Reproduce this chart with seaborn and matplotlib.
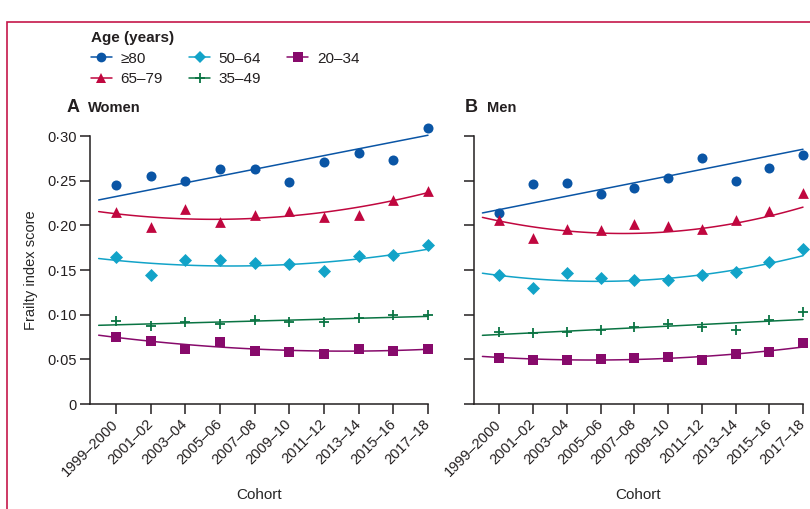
import numpy as np
import pandas as pd
import matplotlib
matplotlib.use("Agg")
import matplotlib.pyplot as plt
from matplotlib.lines import Line2D
from matplotlib.patches import Rectangle
from matplotlib.ticker import FuncFormatter
from matplotlib import font_manager
import seaborn as sns

# ---------------------------------------------------------------- data
cohorts = ["1999–2000", "2001–02", "2003–04", "2005–06", "2007–08",
           "2009–10", "2011–12", "2013–14", "2015–16", "2017–18"]
age_groups = ["≥80", "65–79", "50–64", "35–49", "20–34"]

# observed mean frailty index score per cohort
women_80 = [0.245, 0.255, 0.250, 0.263, 0.263, 0.248, 0.271, 0.281, 0.273, 0.309]
women_65 = [0.215, 0.198, 0.218, 0.204, 0.212, 0.216, 0.209, 0.212, 0.228, 0.238]
women_50 = [0.164, 0.144, 0.161, 0.161, 0.158, 0.157, 0.149, 0.166, 0.167, 0.178]
women_35 = [0.093, 0.087, 0.092, 0.089, 0.094, 0.092, 0.092, 0.096, 0.100, 0.100]
women_20 = [0.075, 0.070, 0.062, 0.069, 0.059, 0.058, 0.056, 0.062, 0.059, 0.062]

men_80 = [0.214, 0.246, 0.247, 0.235, 0.242, 0.253, 0.275, 0.250, 0.264, 0.279]
men_65 = [0.206, 0.186, 0.196, 0.195, 0.202, 0.199, 0.196, 0.206, 0.216, 0.236]
men_50 = [0.144, 0.130, 0.147, 0.141, 0.139, 0.139, 0.144, 0.148, 0.159, 0.174]
men_35 = [0.081, 0.080, 0.081, 0.083, 0.086, 0.089, 0.086, 0.083, 0.094, 0.103]
men_20 = [0.052, 0.049, 0.049, 0.050, 0.052, 0.053, 0.049, 0.056, 0.058, 0.068]

# model-fitted trend per cohort
women_80_fit = [0.232, 0.240, 0.248, 0.255, 0.263, 0.270, 0.278, 0.286, 0.293, 0.301]
women_65_fit = [0.212, 0.210, 0.208, 0.207, 0.208, 0.210, 0.214, 0.220, 0.228, 0.237]
women_50_fit = [0.160, 0.158, 0.156, 0.155, 0.155, 0.156, 0.158, 0.162, 0.167, 0.174]
women_35_fit = [0.0886, 0.0897, 0.0907, 0.0918, 0.0928, 0.0939, 0.0949, 0.0960, 0.0970, 0.0981]
women_20_fit = [0.0745, 0.0703, 0.0668, 0.0638, 0.0615, 0.0600, 0.0592, 0.0593, 0.0600, 0.0612]

men_80_fit = [0.2176, 0.2251, 0.2326, 0.2401, 0.2476, 0.2551, 0.2626, 0.2701, 0.2776, 0.2852]
men_65_fit = [0.203, 0.199, 0.195, 0.193, 0.1915, 0.192, 0.195, 0.201, 0.210, 0.222]
men_50_fit = [0.1428, 0.1405, 0.1391, 0.1383, 0.1383, 0.1398, 0.1435, 0.150, 0.1576, 0.1665]
men_35_fit = [0.0778, 0.0797, 0.0815, 0.0834, 0.0853, 0.0871, 0.0890, 0.0909, 0.0927, 0.0946]
men_20_fit = [0.0516, 0.0505, 0.0498, 0.0497, 0.0502, 0.0512, 0.0528, 0.0550, 0.0591, 0.0647]

observed = {
    "Women": [women_80, women_65, women_50, women_35, women_20],
    "Men": [men_80, men_65, men_50, men_35, men_20],
}
fitted = {
    "Women": [women_80_fit, women_65_fit, women_50_fit, women_35_fit, women_20_fit],
    "Men": [men_80_fit, men_65_fit, men_50_fit, men_35_fit, men_20_fit],
}

# ---------------------------------------------------------------- style
palette = {"≥80": "#0a55a5", "65–79": "#c0073f", "50–64": "#12a3c8",
           "35–49": "#0a7443", "20–34": "#870a6b"}
markers = {"≥80": "o", "65–79": "^", "50–64": "D", "35–49": "+", "20–34": "s"}
msizes = {"≥80": 52, "65–79": 60, "50–64": 44, "35–49": 55, "20–34": 60}
frame_red = "#c5164a"

sns.set_style("ticks")
available = {f.name for f in font_manager.fontManager.ttflist}
base_font = "Liberation Sans Narrow" if "Liberation Sans Narrow" in available else "Liberation Sans"
plt.rcParams["font.family"] = [base_font, "DejaVu Sans"]
plt.rcParams["axes.edgecolor"] = "#231f20"
plt.rcParams["xtick.color"] = "#231f20"
plt.rcParams["ytick.color"] = "#231f20"
plt.rcParams["text.color"] = "#231f20"

rows = []
for sex, groups in observed.items():
    for age, vals in zip(age_groups, groups):
        for i, v in enumerate(vals):
            rows.append({"sex": sex, "age": age, "pos": i, "score": v})
obs_df = pd.DataFrame(rows)

grid = np.linspace(-0.5, 9, 120)
rows = []
for sex, groups in fitted.items():
    for age, vals in zip(age_groups, groups):
        coef = np.polyfit(np.arange(len(vals)), vals, 2)
        for g, v in zip(grid, np.polyval(coef, grid)):
            rows.append({"sex": sex, "age": age, "pos": g, "score": v})
fit_df = pd.DataFrame(rows)

W, H = 810, 509
fig = plt.figure(figsize=(W / 100, H / 100), dpi=100)


def fx(px):
    return px / W


def fy(py):
    return 1 - py / H


ax_a = fig.add_axes([fx(90), fy(404), fx(428) - fx(90), fy(136) - fy(404)])
ax_b = fig.add_axes([fx(474), fy(404), fx(803) - fx(474), fy(136) - fy(404)])

fmt = FuncFormatter(lambda v, _: "0" if abs(v) < 1e-9 else f"{v:.2f}".replace(".", "·"))

for ax, sex in [(ax_a, "Women"), (ax_b, "Men")]:
    sub_fit = fit_df[fit_df["sex"] == sex]
    sns.lineplot(data=sub_fit, x="pos", y="score", hue="age", palette=palette,
                 hue_order=age_groups, estimator=None, sort=True, legend=False,
                 linewidth=1.1, ax=ax, clip_on=False)
    sub_obs = obs_df[obs_df["sex"] == sex]
    for age in age_groups:
        d = sub_obs[sub_obs["age"] == age]
        if markers[age] == "+":
            sns.scatterplot(data=d, x="pos", y="score", color=palette[age],
                            marker="+", s=msizes[age], linewidth=1.3,
                            legend=False, ax=ax, clip_on=False, zorder=3)
        else:
            sns.scatterplot(data=d, x="pos", y="score", color=palette[age],
                            marker=markers[age], s=msizes[age], linewidth=0,
                            legend=False, ax=ax, clip_on=False, zorder=3)

    ax.set_xlim(-0.75, 9)
    ax.set_ylim(0, 0.30)
    ax.set_yticks(np.arange(0, 0.301, 0.05))
    ax.yaxis.set_major_formatter(fmt)
    ax.set_xticks(range(len(cohorts)))
    ax.set_xticklabels(cohorts, rotation=45, ha="right", va="center",
                       rotation_mode="anchor", fontsize=10.5)
    ax.tick_params(axis="both", length=7, width=1.1, labelsize=10.5, pad=2.5)
    ax.tick_params(axis="x", pad=6)
    for s in ["top", "right"]:
        ax.spines[s].set_visible(False)
    for s in ["left", "bottom"]:
        ax.spines[s].set_linewidth(1.1)
    ax.set_xlabel("Cohort", fontsize=11)
    ax.xaxis.set_label_coords(0.5, -0.315)
    ax.set_ylabel("")

ax_a.set_ylabel("Frailty index score", fontsize=10.5)
ax_a.yaxis.set_label_coords(-0.155, 0.5)
ax_b.tick_params(axis="y", labelleft=False)

# panel headings
fig.text(fx(67), fy(108), "A", fontsize=13, fontweight="bold", va="center", ha="left")
fig.text(fx(88), fy(108), "Women", fontsize=10.5, fontweight="bold", va="center", ha="left")
fig.text(fx(465), fy(108), "B", fontsize=13, fontweight="bold", va="center", ha="left")
fig.text(fx(487), fy(108), "Men", fontsize=10.5, fontweight="bold", va="center", ha="left")

# legend
handles = []
for age in age_groups:
    m = markers[age]
    handles.append(Line2D([], [], color=palette[age], lw=1.1, marker=m,
                          markersize=7 if m != "D" else 6,
                          markeredgewidth=1.3 if m == "+" else 0,
                          label=age))
leg = fig.legend(handles=handles, ncol=3, loc="upper left",
                 bbox_to_anchor=(fx(80), fy(20)), frameon=False,
                 title="Age (years)", alignment="left", fontsize=11,
                 handlelength=1.4, handletextpad=0.55, columnspacing=1.7,
                 labelspacing=0.45, borderpad=0.2)
leg.get_title().set_fontweight("bold")
leg.get_title().set_fontsize(11)

# outer frame
fig.add_artist(Rectangle((fx(7), -0.1), 1.2, fy(22) + 0.1, transform=fig.transFigure,
                         fill=False, edgecolor=frame_red, linewidth=1.2, clip_on=False))

fig.savefig("out.png", dpi=100)
